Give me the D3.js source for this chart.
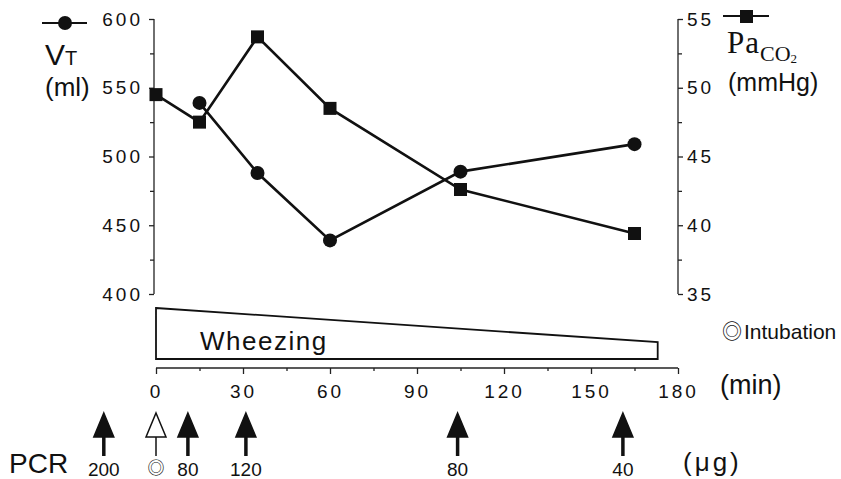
<!DOCTYPE html>
<html>
<head>
<meta charset="utf-8">
<script src="https://cdn.jsdelivr.net/npm/d3@7"></script>
<style>
  body { margin: 0; background: #fff; }
  svg { display: block; font-family: "Liberation Sans", Arial, sans-serif; }
</style>
</head>
<body>
<div id="chart"></div>
<script>
// Data
var vtTime = [15, 35, 60, 105, 165];
var vtValue = [539, 488, 439, 489, 509];

var pacoTime = [0, 15, 35, 60, 105, 165];
var pacoValue = [49.5, 47.5, 53.7, 48.5, 42.6, 39.4];

// wheezing band: start, end (min) and relative thickness at each end
var wheezeTime = [0, 173];
var wheezeLevel = [1, 0.33];

// PCR doses
var doseTime = [-18, 0, 11, 31, 104, 161];
var doseLabel = ["200", "◎", "80", "120", "80", "40"];
var doseOpen = [false, true, false, false, false, false];

var leftTicks = [400, 450, 500, 550, 600];
var rightTicks = [35, 40, 45, 50, 55];
var timeTicks = [0, 30, 60, 90, 120, 150, 180];

var width = 841, height = 479;

var svg = d3.select("#chart").append("svg")
  .attr("width", width)
  .attr("height", height);

// Scales
var x = d3.scaleLinear().domain([0, 180]).range([156, 678]);
var yL = d3.scaleLinear().domain([400, 600]).range([294, 19]);
var yR = d3.scaleLinear().domain([35, 55]).range([294, 19]);

// Left axis
svg.append("g")
  .attr("transform", "translate(154,0)")
  .call(d3.axisLeft(yL).tickValues(leftTicks).tickSize(5).tickPadding(6));
svg.append("g")
  .attr("transform", "translate(154,0)")
  .call(d3.axisLeft(yL).tickValues([425, 475, 525, 575]).tickSize(4).tickFormat(""));

// Right axis
svg.append("g")
  .attr("transform", "translate(678,0)")
  .call(d3.axisRight(yR).tickValues(rightTicks).tickSize(5).tickPadding(4));
svg.append("g")
  .attr("transform", "translate(678,0)")
  .call(d3.axisRight(yR).tickValues([37.5, 42.5, 47.5, 52.5]).tickSize(4).tickFormat(""));

// Time axis
svg.append("g")
  .attr("transform", "translate(0,368)")
  .call(d3.axisBottom(x).tickValues(timeTicks).tickSize(6).tickPadding(11));
svg.append("g")
  .attr("transform", "translate(0,368)")
  .call(d3.axisBottom(x).tickValues([15, 45, 75, 105, 135, 165]).tickSize(3).tickFormat(""));

svg.selectAll(".tick line").attr("stroke", "#222").attr("stroke-width", 1.3);
svg.selectAll(".tick text")
  .attr("fill", "#111")
  .style("font-size", "19px")
  .style("letter-spacing", "3px");

// plain axis lines instead of the domain paths (no end caps)
svg.selectAll(".domain").remove();
svg.append("line").attr("x1", 154).attr("x2", 154).attr("y1", yL(600)).attr("y2", yL(400))
  .attr("stroke", "#222").attr("stroke-width", 1.3);
svg.append("line").attr("x1", 678).attr("x2", 678).attr("y1", yR(55)).attr("y2", yR(35))
  .attr("stroke", "#222").attr("stroke-width", 1.3);
svg.append("line").attr("x1", x(0)).attr("x2", x(180)).attr("y1", 368).attr("y2", 368)
  .attr("stroke", "#222").attr("stroke-width", 1.3);

// Wheezing band
var bandBottom = 359, bandMaxH = 51;
var band = [
  [x(wheezeTime[0]), bandBottom - bandMaxH * wheezeLevel[0]],
  [x(wheezeTime[1]), bandBottom - bandMaxH * wheezeLevel[1]],
  [x(wheezeTime[1]), bandBottom],
  [x(wheezeTime[0]), bandBottom]
];
svg.append("path")
  .attr("d", d3.line()(band) + "Z")
  .attr("fill", "#fff")
  .attr("stroke", "#111")
  .attr("stroke-width", 1.8);
svg.append("text")
  .attr("x", 200).attr("y", 350)
  .style("font-size", "26px")
  .style("letter-spacing", "1.5px")
  .attr("fill", "#111")
  .text("Wheezing");

// Lines
var vtData = vtTime.map(function(t, i) { return [t, vtValue[i]]; });
var pacoData = pacoTime.map(function(t, i) { return [t, pacoValue[i]]; });

svg.append("path")
  .attr("d", d3.line().x(function(d) { return x(d[0]); }).y(function(d) { return yL(d[1]); })(vtData))
  .attr("fill", "none").attr("stroke", "#111").attr("stroke-width", 2.6);
svg.append("path")
  .attr("d", d3.line().x(function(d) { return x(d[0]); }).y(function(d) { return yR(d[1]); })(pacoData))
  .attr("fill", "none").attr("stroke", "#111").attr("stroke-width", 2.6);

svg.selectAll(".vt")
  .data(vtData)
  .enter().append("circle")
  .attr("cx", function(d) { return x(d[0]); })
  .attr("cy", function(d) { return yL(d[1]); })
  .attr("r", 7)
  .attr("fill", "#111");

svg.selectAll(".paco")
  .data(pacoData)
  .enter().append("rect")
  .attr("x", function(d) { return x(d[0]) - 6.5; })
  .attr("y", function(d) { return yR(d[1]) - 6.5; })
  .attr("width", 13).attr("height", 13)
  .attr("fill", "#111");

// Left legend / title
svg.append("line").attr("x1", 42).attr("x2", 87).attr("y1", 23).attr("y2", 23)
  .attr("stroke", "#111").attr("stroke-width", 2.2);
svg.append("circle").attr("cx", 65).attr("cy", 23).attr("r", 7).attr("fill", "#111");
var vt = svg.append("text").attr("x", 45).attr("y", 65).attr("fill", "#111");
vt.append("tspan").style("font-size", "30px").text("V");
vt.append("tspan").style("font-size", "20px").text("T");
svg.append("text").attr("x", 45).attr("y", 96).attr("fill", "#111")
  .style("font-size", "26px").text("(ml)");

// Right legend / title
svg.append("line").attr("x1", 723).attr("x2", 769).attr("y1", 16).attr("y2", 16)
  .attr("stroke", "#111").attr("stroke-width", 2.2);
svg.append("rect").attr("x", 740).attr("y", 10).attr("width", 13).attr("height", 13).attr("fill", "#111");
var pa = svg.append("text").attr("x", 727).attr("y", 53).attr("fill", "#111")
  .style("font-family", "'Liberation Serif', 'Times New Roman', serif");
pa.append("tspan").style("font-size", "31px").style("letter-spacing", "1px").text("Pa");
pa.append("tspan").attr("dy", 8).style("font-size", "22px").text("CO");
pa.append("tspan").attr("dy", 2).style("font-size", "13px").text("2");
svg.append("text").attr("x", 728).attr("y", 91).attr("fill", "#111")
  .style("font-size", "25px").text("(mmHg)");

// Intubation note and unit labels
var intub = svg.append("text").attr("x", 722).attr("y", 339).attr("fill", "#111")
  .style("font-size", "21px");
intub.append("tspan").style("font-family", "'Noto Sans CJK JP', sans-serif").style("font-size", "20px").text("◎");
intub.append("tspan").attr("dx", 2).text("Intubation");
svg.append("text").attr("x", 720).attr("y", 394).attr("fill", "#111")
  .style("font-size", "27px").text("(min)");

// PCR arrows
svg.append("text").attr("x", 9).attr("y", 473).attr("fill", "#111")
  .style("font-size", "28px").text("PCR");
svg.append("text").attr("x", 683).attr("y", 471).attr("fill", "#111")
  .style("font-size", "26px").style("letter-spacing", "3px").text("(μg)");

var arrows = svg.selectAll(".arrow")
  .data(doseTime.map(function(t, i) { return { t: t, label: doseLabel[i], open: doseOpen[i] }; }))
  .enter().append("g")
  .attr("transform", function(d) { return "translate(" + x(d.t) + ",0)"; });

arrows.append("line")
  .attr("x1", 0).attr("x2", 0).attr("y1", 436).attr("y2", 456)
  .attr("stroke", "#111")
  .attr("stroke-width", function(d) { return d.open ? 1.5 : 3.5; });
arrows.append("path")
  .attr("d", "M0,413L10,437L-10,437Z")
  .attr("fill", function(d) { return d.open ? "#fff" : "#111"; })
  .attr("stroke", "#111")
  .attr("stroke-width", 1.5);
arrows.append("text")
  .attr("x", 0).attr("y", function(d) { return d.open ? 474 : 476; })
  .attr("text-anchor", "middle")
  .attr("fill", "#111")
  .style("font-family", function(d) { return d.open ? "'Noto Sans CJK JP', sans-serif" : null; })
  .style("font-size", function(d) { return d.open ? "17px" : "19px"; })
  .text(function(d) { return d.label; });
</script>
</body>
</html>
